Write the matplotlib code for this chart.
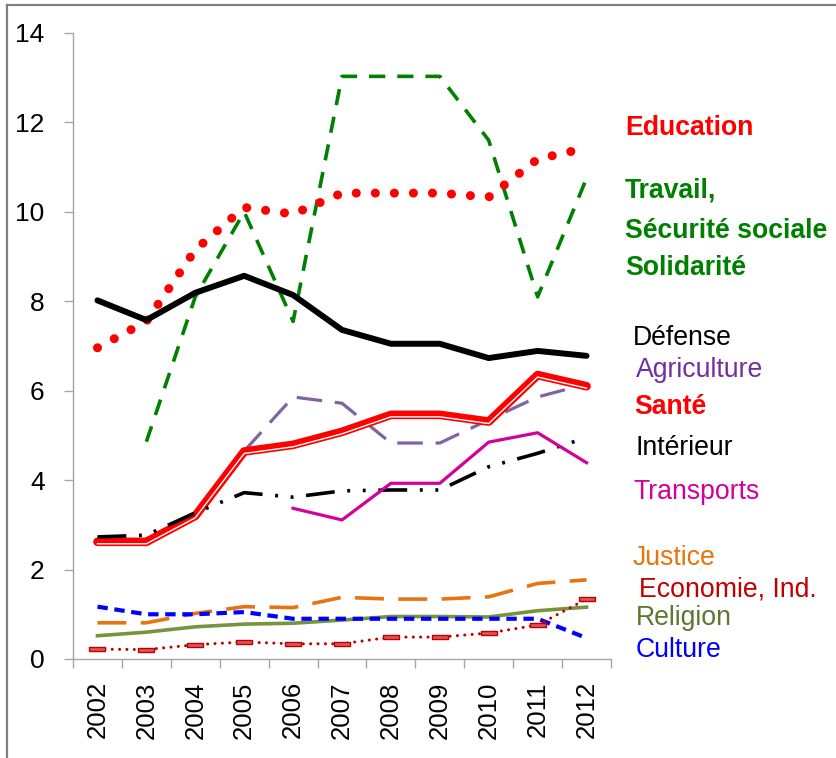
import matplotlib
matplotlib.use("Agg")
from matplotlib import pyplot as plt
from matplotlib.lines import Line2D
from matplotlib import transforms
import numpy as np

plt.rcParams['font.family'] = ['Liberation Sans', 'DejaVu Sans']

years = ['2002', '2003', '2004', '2005', '2006', '2007', '2008', '2009', '2010', '2011', '2012']

education = [6.96, 7.55, 9.15, 10.1, 9.95, 10.42, 10.42, 10.42, 10.33, 11.18, 11.43]
travail = [None, 4.86, 8.1, 10.0, 7.55, 13.03, 13.03, 13.03, 11.6, 8.1, 10.75]
defense = [8.02, 7.58, 8.19, 8.57, 8.14, 7.36, 7.05, 7.05, 6.73, 6.89, 6.78]
agriculture = [None, None, None, 4.65, 5.86, 5.72, 4.83, 4.83, 5.35, 5.86, 6.15]
sante = [2.62, 2.62, 3.2, 4.64, 4.79, 5.08, 5.46, 5.46, 5.31, 6.35, 6.1]
interieur = [2.73, 2.77, 3.27, 3.72, 3.62, 3.76, 3.78, 3.78, 4.3, 4.6, 4.95]
transports = [None, None, None, None, 3.37, 3.11, 3.93, 3.93, 4.85, 5.06, 4.39]
justice = [0.81, 0.81, 1.02, 1.17, 1.15, 1.38, 1.34, 1.34, 1.39, 1.69, 1.77]
economie = [0.22, 0.21, 0.32, 0.38, 0.34, 0.34, 0.49, 0.49, 0.58, 0.76, 1.34]
religion = [0.52, 0.6, 0.72, 0.78, 0.8, 0.87, 0.95, 0.95, 0.94, 1.08, 1.16]
culture = [1.17, 1.0, 1.0, 1.05, 0.9, 0.9, 0.9, 0.9, 0.9, 0.9, 0.47]


def arr(v):
    return np.array([np.nan if a is None else a for a in v], dtype=float)


fig = plt.figure(figsize=(8.36, 7.58), dpi=100)
ax = fig.add_axes([73/836, 1-659/758, (611-73)/836, (659-33)/758])
x = np.arange(len(years))

ax.plot(x, arr(travail), color='#008000', lw=2.6, linestyle=(0, (4.5, 3.3)))
ax.plot(x, arr(education), color='#ff0000', lw=6.5, linestyle=(0, (0.01, 2.1)),
        dash_capstyle='round')
ax.plot(x, arr(defense), color='black', lw=4.3, solid_capstyle='round')
ax.plot(x, arr(agriculture), color='#8064a2', lw=2.3, linestyle=(0, (8, 4)))
ax.plot(x, arr(sante), color='#ff0000', lw=6.2, solid_capstyle='round',
        solid_joinstyle='round')
shift = transforms.offset_copy(ax.transData, fig=fig, x=0, y=-1.4, units='points')
ax.plot(x, arr(sante), color='white', lw=1.0, transform=shift)
ax.plot(x, arr(interieur), color='black', lw=2.6,
        linestyle=(0, (8, 3.5, 0.8, 3.5, 0.8, 3.5)))
ax.plot(x, arr(transports), color='#d4009b', lw=2.3)
ax.plot(x, arr(justice), color='#e8730f', lw=2.6, linestyle=(0, (8, 4)))
ax.plot(x, arr(religion), color='#77933c', lw=2.6)
ax.plot(x, arr(culture), color='#0000ff', lw=3.0, linestyle=(0, (2.5, 1.6)))
rect = [(-1.6, -0.45), (1.6, -0.45), (1.6, 0.45), (-1.6, 0.45), (-1.6, -0.45)]
ax.plot(x, arr(economie), color='#c00000', lw=2.2, linestyle=(0, (0.01, 2.4)),
        dash_capstyle='round', marker=rect, markersize=11,
        markerfacecolor='#e05656', markeredgecolor='#c00000', markeredgewidth=1.0)

ax.set_xlim(-0.5, len(years) - 0.5)
ax.set_ylim(0, 14)
ax.set_yticks(range(0, 15, 2))
ax.set_xticks(x)
ax.set_xticklabels(years, rotation=90, fontsize=18.5)
ax.set_xticks(np.arange(-0.5, len(years)), minor=True)
ax.tick_params(axis='x', which='major', length=0, pad=16)
ax.tick_params(axis='x', which='minor', length=6.5, color='#a6a6a6', width=1)
ax.tick_params(axis='y', length=6.5, color='#a6a6a6', width=1, labelsize=19, pad=14)
for s in ['top', 'right']:
    ax.spines[s].set_visible(False)
for s in ['left', 'bottom']:
    ax.spines[s].set_color('#a6a6a6')
    ax.spines[s].set_linewidth(1)

labels = [
    ('Education', 625, 128, '#ff0000', 'bold'),
    ('Travail,', 625, 190, '#008000', 'bold'),
    ('Sécurité sociale', 625, 231, '#008000', 'bold'),
    ('Solidarité', 625, 268, '#008000', 'bold'),
    ('Défense', 633, 338, 'black', 'normal'),
    ('Agriculture', 636, 370, '#7030a0', 'normal'),
    ('Santé', 634, 407, '#ff0000', 'bold'),
    ('Intérieur', 636, 448, 'black', 'normal'),
    ('Transports', 633, 492, '#d4009b', 'normal'),
    ('Justice', 633, 558, '#e8730f', 'normal'),
    ('Economie, Ind.', 639, 590, '#c00000', 'normal'),
    ('Religion', 636, 618, '#5f7530', 'normal'),
    ('Culture', 636, 650, '#0000ff', 'normal'),
]
for t, px, py, c, w in labels:
    fig.text(px/836, 1-py/758, t, color=c, fontweight=w, fontsize=19.2,
             ha='left', va='center')

fig.add_artist(Line2D([7/836, 7/836], [0, 1-5/758], color='#808080', lw=1.6))
fig.add_artist(Line2D([7/836, 1], [1-5/758, 1-5/758], color='#808080', lw=1.6))

fig.savefig('out.png', dpi=100)
